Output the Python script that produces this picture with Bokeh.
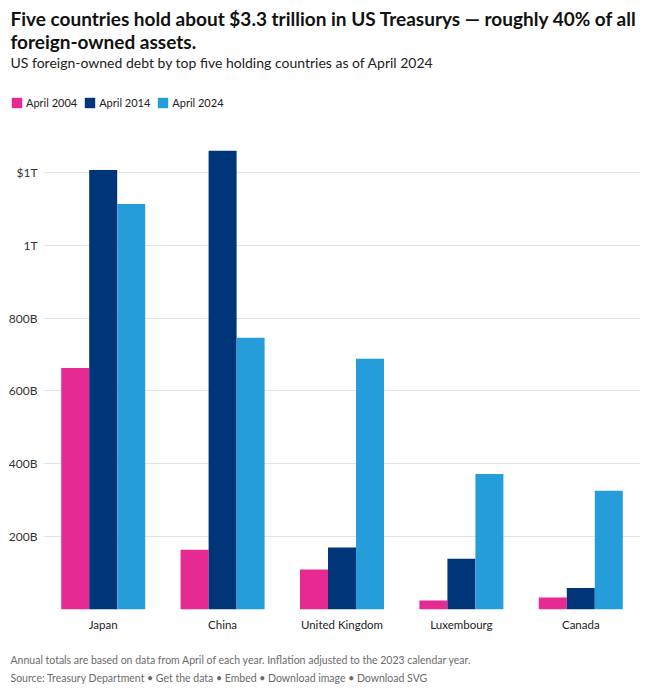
from bokeh.plotting import figure
from bokeh.layouts import column, row
from bokeh.models import FactorRange, Range1d, FixedTicker, Legend, LegendItem, ColumnDataSource, Label
from bokeh.transform import dodge
from bokeh.embed import file_html
from bokeh.resources import INLINE

# ---- data (billions of USD) ----
countries = ["Japan", "China", "United Kingdom", "Luxembourg", "Canada"]
april_2004 = [663, 164, 110, 25, 33]
april_2014 = [1206, 1259, 170, 139, 59]
april_2024 = [1113, 746, 688, 372, 326]
series_labels = ["April 2004", "April 2014", "April 2024"]
series_colors = ["#e62a91", "#00357a", "#269ddb"]
y_ticks = [0, 200, 400, 600, 800, 1000, 1200]
y_tick_labels = ["", "200B", "400B", "600B", "800B", "1T", "$1T"]

title_lines = ["Five countries hold about $3.3 trillion in US Treasurys \u2014 roughly 40% of all",
               "foreign-owned assets."]
subtitle = "US foreign-owned debt by top five holding countries as of April 2024"
footnote = "Annual totals are based on data from April of each year. Inflation adjusted to the 2023 calendar year."
source_line = "Source: Treasury Department \u2022 Get the data \u2022 Embed \u2022 Download image \u2022 Download SVG"

FONT = "Lato"
W = 650
src = ColumnDataSource(dict(country=countries, a=april_2004, b=april_2014, c=april_2024))
bw = 0.2345
keys = ["a", "b", "c"]
offsets = [-bw, 0, bw]


def bare(fig):
    fig.outline_line_color = None
    fig.xgrid.grid_line_color = None
    fig.ygrid.grid_line_color = None
    return fig


def label(fig, txt, y, size, color, style="normal"):
    fig.add_layout(Label(x=10, y=y, x_units="screen", y_units="screen", text=txt,
                         text_font=FONT, text_font_size=size, text_color=color,
                         text_font_style=style, text_baseline="middle", text_align="left"))


# ---------- header: title, subtitle, legend ----------
HH = 139
head = figure(width=W, height=HH, x_range=FactorRange(*countries), y_range=Range1d(-2, -1),
              output_backend="svg", toolbar_location=None, x_axis_location=None, y_axis_location=None,
              min_border_left=0, min_border_right=0, min_border_top=0, min_border_bottom=0)
bare(head)
head_renderers = []
for key, off, col in zip(keys, offsets, series_colors):
    head_renderers.append(head.vbar(x=dodge("country", off, range=head.x_range), top=key, width=bw,
                                    source=src, fill_color=col, line_color=None, visible=False))
label(head, title_lines[0], HH - 18, "19px", "#111111", "bold")
label(head, title_lines[1], HH - 41, "19px", "#111111", "bold")
label(head, subtitle, HH - 62, "14px", "#222222")
legend = Legend(items=[LegendItem(label=l, renderers=[r]) for l, r in zip(series_labels, head_renderers)],
                orientation="horizontal", location=(10, HH - 108.5),
                glyph_width=13, glyph_height=13, label_standoff=3, spacing=6,
                padding=0, margin=0, border_line_color=None, background_fill_alpha=0,
                label_text_font=FONT, label_text_font_size="11px", label_text_color="#222222",
                label_height=13)
head.add_layout(legend, "center")

# ---------- main chart ----------
p = figure(x_range=FactorRange(*countries), y_range=Range1d(0, 1290),
           width=W, height=500, output_backend="svg", toolbar_location=None,
           min_border_left=43, min_border_right=10, min_border_top=0, min_border_bottom=30)
p.outline_line_color = None
for key, off, col in zip(keys, offsets, series_colors):
    p.vbar(x=dodge("country", off, range=p.x_range), top=key, width=bw,
           source=src, fill_color=col, line_color=None)

p.yaxis.ticker = FixedTicker(ticks=y_ticks)
p.yaxis.major_label_overrides = {t: l for t, l in zip(y_ticks, y_tick_labels)}
p.yaxis.axis_line_color = None
p.yaxis.major_tick_line_color = None
p.yaxis.major_tick_out = 0
p.yaxis.minor_tick_line_color = None
p.yaxis.major_label_standoff = 6
p.yaxis.major_label_text_font = FONT
p.yaxis.major_label_text_font_size = "12px"
p.yaxis.major_label_text_color = "#333333"

p.xaxis.axis_line_color = None
p.xaxis.major_tick_line_color = None
p.xaxis.major_tick_out = 0
p.xaxis.minor_tick_line_color = None
p.xaxis.major_label_standoff = 8
p.xaxis.major_label_text_font = FONT
p.xaxis.major_label_text_font_size = "11.5px"
p.xaxis.major_label_text_color = "#222222"

p.xgrid.grid_line_color = None
p.ygrid.grid_line_color = "#e3e3e3"
p.ygrid.grid_line_width = 1

# ---------- footer ----------
FH = 52
foot = figure(width=W, height=FH, x_range=Range1d(0, 1), y_range=Range1d(0, 1),
              output_backend="svg", toolbar_location=None, x_axis_location=None, y_axis_location=None,
              min_border_left=0, min_border_right=0, min_border_top=0, min_border_bottom=0)
bare(foot)
label(foot, footnote, FH - 20, "10.5px", "#6b6b6b")
label(foot, source_line, FH - 38, "10.5px", "#6b6b6b")

layout = column(row(head), p, row(foot), spacing=0)
open("out.html", "w").write(file_html(layout, INLINE))
